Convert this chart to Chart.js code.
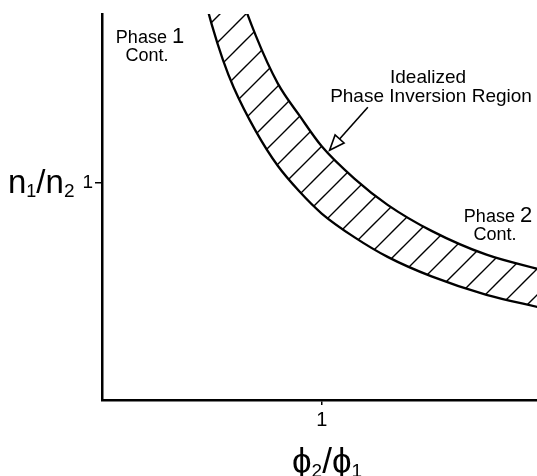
<!DOCTYPE html>
<html>
<head>
<meta charset="utf-8">
<script src="https://cdn.jsdelivr.net/npm/chart.js@4.4.0/dist/chart.umd.min.js"></script>
<style>
  html, body { margin: 0; padding: 0; background: #fff; }
  #wrap { width: 537px; height: 476px; }
</style>
</head>
<body>
<div id="wrap"><canvas id="chart" width="537" height="476"></canvas></div>
<script>
const ratioX = [0.45, 0.5, 0.55, 0.6, 0.7, 0.8, 0.9, 1.0, 1.15, 1.3, 1.5, 1.75, 2.0];
// lower edge of the inversion band (n1/n2)
const innerY = [1.92, 1.73, 1.57, 1.44, 1.24, 1.08, 0.96, 0.86, 0.75, 0.66, 0.57, 0.485, 0.425];
// upper edge of the inversion band
const outerY = [2.6, 2.34, 2.13, 1.96, 1.68, 1.46, 1.31, 1.17, 1.02, 0.9, 0.78, 0.67, 0.6];
const xTicks = [1];
const yTicks = [1];

const FONT = "'Liberation Sans', Arial, sans-serif";

// diagonal hatch used to fill the band
function makeHatch() {
    const s = 26;
    const c = document.createElement('canvas');
    c.width = s;
    c.height = s;
    const g = c.getContext('2d');
    g.strokeStyle = '#000';
    g.lineWidth = 1.4;
    g.beginPath();
    g.moveTo(-2, s + 2); g.lineTo(s + 2, -2);
    g.moveTo(-2, 2); g.lineTo(2, -2);
    g.moveTo(s - 2, s + 2); g.lineTo(s + 2, s - 2);
    g.stroke();
    return g.createPattern(c, 'repeat');
}

function drawPhase(ctx, digit, cx, base) {
    ctx.font = '18px ' + FONT;
    const w1 = ctx.measureText('Phase ').width;
    ctx.font = '22px ' + FONT;
    const w2 = ctx.measureText(digit).width;
    let x = cx - (w1 + w2) / 2;
    ctx.textAlign = 'left';
    ctx.font = '18px ' + FONT;
    ctx.fillText('Phase ', x, base);
    ctx.font = '22px ' + FONT;
    ctx.fillText(digit, x + w1, base);
    ctx.font = '18px ' + FONT;
    ctx.textAlign = 'center';
    ctx.fillText('Cont.', cx - 3, base + 18);
}

// draws text runs with optional subscripts, left to right
function drawRuns(ctx, runs, x, base) {
    ctx.textAlign = 'left';
    runs.forEach(r => {
        ctx.font = r[1] + 'px ' + FONT;
        ctx.fillText(r[0], x, base + (r[2] || 0));
        x += ctx.measureText(r[0]).width;
    });
}

const annotations = {
    id: 'annotations',
    afterDraw(chart) {
        const ctx = chart.ctx;
        const xs = chart.scales.x;
        const ys = chart.scales.y;
        ctx.save();
        ctx.fillStyle = '#000';
        ctx.strokeStyle = '#000';
        ctx.textBaseline = 'alphabetic';

        drawPhase(ctx, '1', 150, 43);
        drawPhase(ctx, '2', 498, 222);

        ctx.font = '19px ' + FONT;
        ctx.textAlign = 'center';
        ctx.fillText('Idealized', 428, 83);
        ctx.fillText('Phase Inversion Region', 431, 102);

        // arrow pointing at the band
        const tx = xs.getPixelForValue(1.036), ty = ys.getPixelForValue(1.152);
        const sx = xs.getPixelForValue(1.21), sy = ys.getPixelForValue(1.35);
        const ang = Math.atan2(ty - sy, tx - sx);
        const hl = 15, hw = 6;
        const bx = tx - hl * Math.cos(ang), by = ty - hl * Math.sin(ang);
        ctx.lineWidth = 1.6;
        ctx.beginPath();
        ctx.moveTo(sx, sy);
        ctx.lineTo(bx, by);
        ctx.stroke();
        ctx.beginPath();
        ctx.moveTo(tx, ty);
        ctx.lineTo(bx + hw * Math.sin(ang), by - hw * Math.cos(ang));
        ctx.lineTo(bx - hw * Math.sin(ang), by + hw * Math.cos(ang));
        ctx.closePath();
        ctx.fillStyle = '#fff';
        ctx.fill();
        ctx.stroke();

        // axis titles
        ctx.fillStyle = '#000';
        drawRuns(ctx, [['n', 33], ['1', 18, 4], ['/', 33], ['n', 33], ['2', 19, 4]], 8, 193);
        drawRuns(ctx, [['ϕ', 35], ['2', 19, 4], ['/', 35], ['ϕ', 35], ['1', 19, 4]], 292, 473);
        ctx.restore();
    }
};

const ctx = document.getElementById('chart').getContext('2d');
const chart = new Chart(ctx, {
    type: 'line',
    data: {
        datasets: [{
            data: ratioX.map((x, i) => ({ x: x, y: innerY[i] })),
            borderColor: '#000',
            borderWidth: 2.3,
            pointRadius: 0,
            cubicInterpolationMode: 'monotone',
            fill: false
        }, {
            data: ratioX.map((x, i) => ({ x: x, y: outerY[i] })),
            borderColor: '#000',
            borderWidth: 2.3,
            pointRadius: 0,
            cubicInterpolationMode: 'monotone',
            backgroundColor: makeHatch(),
            fill: '-1'
        }]
    },
    options: {
        responsive: false,
        animation: false,
        layout: { padding: { top: 14, left: 0, right: 0, bottom: 0 } },
        plugins: {
            legend: { display: false },
            tooltip: { enabled: false }
        },
        scales: {
            x: {
                type: 'linear',
                min: 0,
                max: 1.98,
                afterBuildTicks: s => { s.ticks = xTicks.map(v => ({ value: v })); },
                afterFit: s => { s.height = 76; },
                grid: { drawOnChartArea: false, drawTicks: true, tickLength: 5, color: '#000', lineWidth: 1.5 },
                border: { color: '#000', width: 2.5 },
                ticks: { color: '#000', padding: 3, font: { size: 20, family: FONT } }
            },
            y: {
                type: 'linear',
                min: 0,
                max: 1.78,
                afterBuildTicks: s => { s.ticks = yTicks.map(v => ({ value: v })); },
                afterFit: s => { s.width = 102; },
                grid: { drawOnChartArea: false, drawTicks: true, tickLength: 7, color: '#000', lineWidth: 1.5 },
                border: { color: '#000', width: 2.5 },
                ticks: { color: '#000', padding: 2, font: { size: 19, family: FONT } }
            }
        }
    },
    plugins: [annotations]
});
</script>
</body>
</html>
